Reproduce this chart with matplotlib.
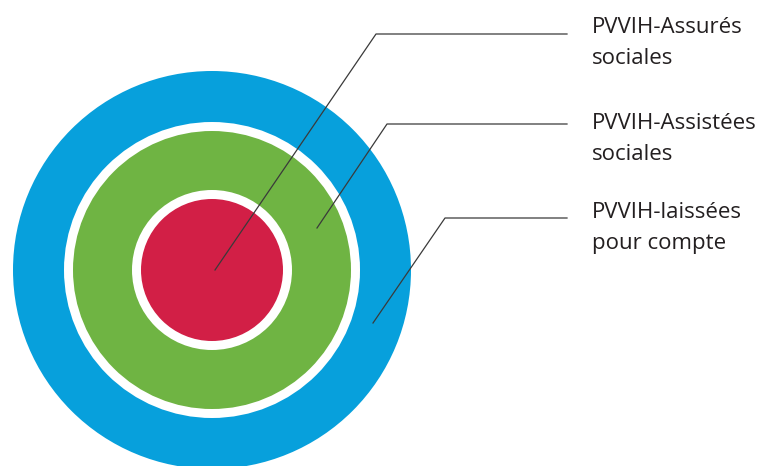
import matplotlib.pyplot as plt
from matplotlib.patches import Circle

# rings, innermost first
labels = ["PVVIH-Assurés\nsociales",
          "PVVIH-Assistées\nsociales",
          "PVVIH-laissées\npour compte"]
radii = [71, 139, 199]
colors = ["#D21F46", "#6FB443", "#07A0DC"]
gap = 9

# layout (pixels, origin top left)
center = (212, 270)
anchors = [(215, 270), (317, 228), (373, 323)]
elbows = [(376, 34), (387, 124), (445, 218)]
line_end_x = 567
text_x = 592
# baseline of the last line of each label
baselines = [64, 160, 249]

plt.rcParams['font.family'] = ['Open Sans', 'DejaVu Sans']

fig = plt.figure(figsize=(7.63, 4.66), dpi=100)
ax = fig.add_axes([0, 0, 1, 1])
ax.set_xlim(0, 763)
ax.set_ylim(466, 0)
ax.set_aspect('equal')
ax.axis('off')

n = len(radii)
for i in range(n):
    z = 2 * (n - i)
    if i < n - 1:
        # white gap ring around each inner disc
        ax.add_patch(Circle(center, radii[i] + gap, color="white", lw=0, zorder=z - 1))
    ax.add_patch(Circle(center, radii[i], color=colors[i], lw=0, zorder=z))

for lab, a, e, b in zip(labels, anchors, elbows, baselines):
    ax.plot([a[0], e[0], line_end_x], [a[1], e[1], e[1]],
            color="#3A3A3A", lw=0.9, zorder=20)
    ax.text(text_x, b, lab, fontsize=16, color="#231F20",
            ha='left', va='baseline', linespacing=1.65)

fig.savefig("out.png", dpi=100)
